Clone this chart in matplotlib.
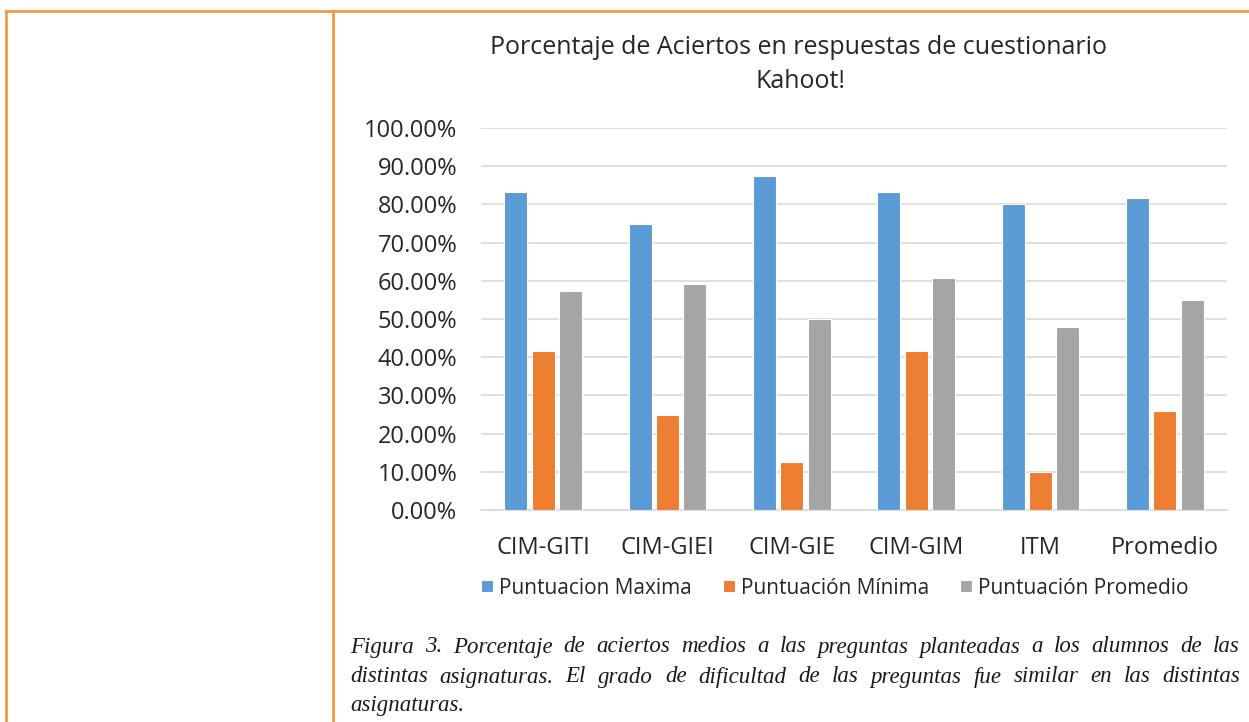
import matplotlib
matplotlib.use("Agg")
from matplotlib import pyplot as plt
from matplotlib.lines import Line2D
from matplotlib.ticker import FuncFormatter
import numpy as np

plt.rcParams['font.family'] = ['Open Sans', 'DejaVu Sans']

categories = ['CIM-GITI', 'CIM-GIEI', 'CIM-GIE', 'CIM-GIM', 'ITM', 'Promedio']
series_names = ['Puntuacion Maxima', 'Puntuación Mínima', 'Puntuación Promedio']
p_max = [0.8333, 0.75, 0.875, 0.8333, 0.80, 0.8167]
p_min = [0.4167, 0.25, 0.125, 0.4167, 0.10, 0.2583]
p_avg = [0.5733, 0.5917, 0.50, 0.6067, 0.48, 0.5493]
colors = ['#5b9bd5', '#ed7d31', '#a5a5a5']

title_lines = ['Porcentaje de Aciertos en respuestas de cuestionario', 'Kahoot!']
caption_lines = [
    'Figura 3. Porcentaje de aciertos medios a las preguntas planteadas a los alumnos de las',
    'distintas asignaturas. El grado de dificultad de las preguntas fue similar en las distintas',
    'asignaturas.',
]

W, H = 1249, 722
fig = plt.figure(figsize=(W / 100, H / 100), dpi=100)

# table frame
frame = '#f79646'
fig.add_artist(Line2D([6 / W, 1], [1 - 11 / H] * 2, color=frame, lw=2, transform=fig.transFigure))
fig.add_artist(Line2D([6 / W] * 2, [0, 1 - 11 / H], color=frame, lw=2, transform=fig.transFigure))
fig.add_artist(Line2D([333 / W] * 2, [0, 1 - 11 / H], color=frame, lw=2, transform=fig.transFigure))

ax = fig.add_axes([481 / W, 1 - 510 / H, (1227 - 481) / W, (510 - 128) / H])
x = np.arange(len(categories))
offs = [-0.22, 0, 0.22]
for vals, name, c, o in zip([p_max, p_min, p_avg], series_names, colors, offs):
    ax.bar(x + o, vals, width=0.185, color=c, label=name, edgecolor='white', linewidth=0.8, zorder=3)

ax.set_xlim(-0.5, len(categories) - 0.5)
ax.set_ylim(0, 1)
ax.set_yticks(np.arange(0, 1.01, 0.1))
ax.yaxis.set_major_formatter(FuncFormatter(lambda v, p: f'{v * 100:.2f}%'))
ax.set_xticks(x)
ax.set_xticklabels(categories)
ax.tick_params(axis='both', length=0, labelsize=17, colors='#262626')
ax.tick_params(axis='x', pad=19)
ax.tick_params(axis='y', pad=17)
ax.grid(True, axis='y', color='#d9d9d9', lw=1.2, zorder=0)
for s in ['top', 'right', 'left']:
    ax.spines[s].set_visible(False)
ax.spines['bottom'].set_color('#d9d9d9')
ax.spines['bottom'].set_linewidth(1.2)

fig.text(798 / W, 1 - 48 / H, title_lines[0], ha='center', va='center', fontsize=18, color='#262626')
fig.text(800 / W, 1 - 82 / H, title_lines[1], ha='center', va='center', fontsize=18, color='#262626')

fig.legend(loc='center', bbox_to_anchor=(835 / W, 1 - 588 / H), ncol=3, frameon=False,
           fontsize=15, handlelength=0.55, handleheight=0.55, handletextpad=0.3,
           columnspacing=1.5, labelcolor='#262626')

# justified caption
renderer = fig.canvas.get_renderer()
cap_font = dict(family='Liberation Serif', style='italic', fontsize=16.5, color='#1a1a1a')
x0, x1 = 350, 1240
ys = [647, 677, 706]
for i, (line, yy) in enumerate(zip(caption_lines, ys)):
    words = line.split(' ')
    if i == len(caption_lines) - 1:
        fig.text(x0 / W, 1 - yy / H, line, ha='left', va='center', **cap_font)
        continue
    texts = [fig.text(0, 1 - yy / H, w, ha='left', va='center', **cap_font) for w in words]
    widths = [t.get_window_extent(renderer).width for t in texts]
    gap = (x1 - x0 - sum(widths)) / (len(words) - 1)
    pos = x0
    for t, w in zip(texts, widths):
        t.set_x(pos / W)
        pos += w + gap

fig.savefig('out.png', dpi=100)
